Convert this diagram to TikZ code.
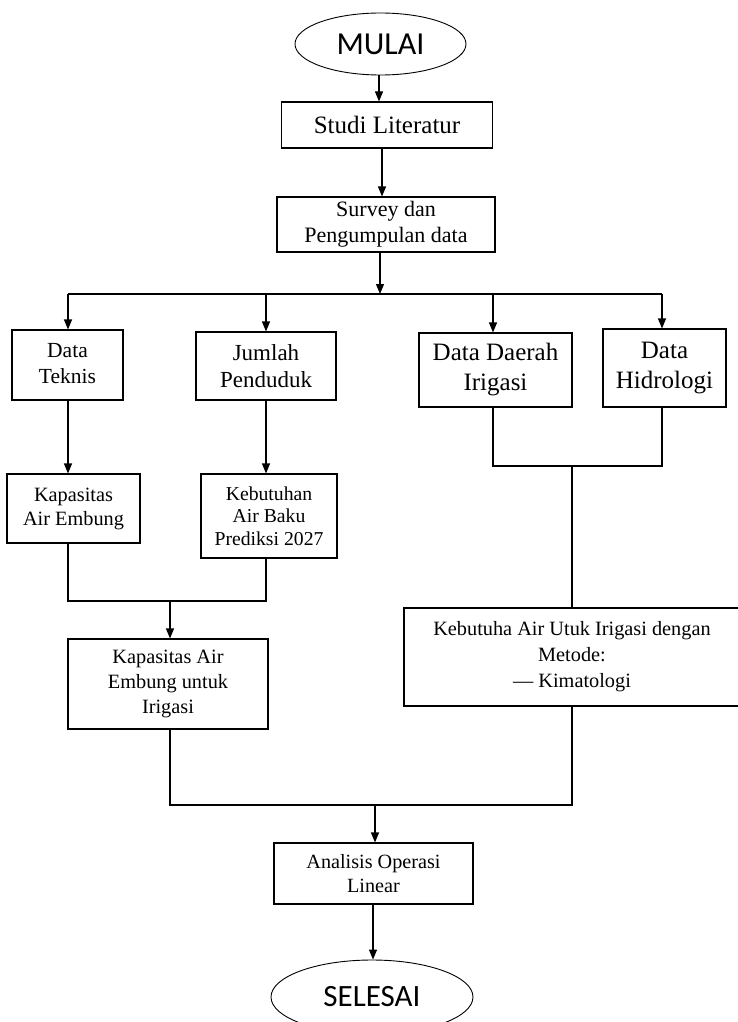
\documentclass[tikz,border=0pt]{standalone}
\usepackage{fontspec}
\setmainfont{Liberation Serif}
\newfontfamily\calib{Carlito}
\usetikzlibrary{shapes.geometric,arrows.meta}
\begin{document}
\begin{tikzpicture}[x=1pt,y=-1pt,
  line width=1.1pt,
  box/.style={draw, rectangle, inner sep=0pt, align=center},
  term/.style={draw, ellipse, inner sep=0pt, line width=0.9pt, font=\calib\fontsize{32}{36}\selectfont},
  arr/.style={-{Triangle[length=10pt,width=8pt]}}
]
\useasboundingbox (0,0) rectangle (737,1022);

% terminals
\node[term, minimum width=171pt, minimum height=62pt] (mulai) at (380.5,44) {MULAI};
\node[term, minimum width=202pt, minimum height=74pt, font=\calib\fontsize{31}{35}\selectfont] (selesai) at (372,997) {SELESAI};

% main boxes
\node[box, minimum width=211pt, minimum height=46pt, font=\fontsize{25}{30}\selectfont] (studi) at (387,125) {Studi Literatur};
\node[box, minimum width=218pt, minimum height=55pt, font=\fontsize{22}{26}\selectfont] (survey) at (386,224.5) {Survey dan\\Pengumpulan data};

\node[box, minimum width=111pt, minimum height=70pt, font=\fontsize{21.5}{26}\selectfont] (teknis) at (67.5,365) {\raisebox{-3pt}{\begin{tabular}{@{}c@{}}Data\\[0pt]Teknis\end{tabular}}};
\node[box, minimum width=140pt, minimum height=68pt, font=\fontsize{23}{27}\selectfont] (jumlah) at (266,366) {Jumlah\\Penduduk};
\node[box, minimum width=153pt, minimum height=74pt, font=\fontsize{25}{30}\selectfont] (daerah) at (495.5,370) {Data Daerah\\Irigasi};
\node[box, minimum width=123pt, minimum height=78pt, font=\fontsize{25}{30}\selectfont] (hidro) at (664.5,368) {Data\\Hidrologi};

\node[box, minimum width=133pt, minimum height=69pt, font=\fontsize{20.3}{24}\selectfont] (kapasitas) at (73.5,508.5) {Kapasitas\\Air Embung};
\node[box, minimum width=136pt, minimum height=84pt, font=\fontsize{19.7}{22.5}\selectfont] (kebutuhan) at (269,516) {Kebutuhan\\Air Baku\\Prediksi 2027};

\node[box, minimum width=200pt, minimum height=90pt, font=\fontsize{20.3}{25}\selectfont] (kapirig) at (168,684) {Kapasitas Air\\Embung untuk\\Irigasi};
\node[box, minimum width=336pt, minimum height=98pt, font=\fontsize{20.3}{26}\selectfont] (kebirig) at (572,657) {Kebutuha Air Utuk Irigasi dengan\\Metode:\\— Kimatologi};

\node[box, minimum width=199pt, minimum height=61pt, font=\fontsize{20.2}{24}\selectfont] (analisis) at (373.5,873.5) {Analisis Operasi\\Linear};

% junction coordinates
\coordinate (bus) at (380,294);
\coordinate (busL) at (68,294);
\coordinate (busR) at (662,294);
\coordinate (mL) at (170,601);
\coordinate (mR) at (572,466);
\coordinate (mB) at (375,805);

% top chain
\draw[arr] (379,0 |- mulai.south) -- (379,0 |- studi.north);
\draw[arr] (382,0 |- studi.south) -- (382,0 |- survey.north);
\draw[arr] (bus |- survey.south) -- (bus);

% distribution bus
\draw (busL) -- (busR);
\draw[arr] (busL) -- (busL |- teknis.north);
\draw[arr] (266,294) -- (266,0 |- jumlah.north);
\draw[arr] (493,294) -- (493,0 |- daerah.north);
\draw[arr] (busR) -- (busR |- hidro.north);

% left branch
\draw[arr] (68,0 |- teknis.south) -- (68,0 |- kapasitas.north);
\draw[arr] (266,0 |- jumlah.south) -- (266,0 |- kebutuhan.north);
\draw (68,0 |- kapasitas.south) -- (68,601) -- (266,601) -- (266,0 |- kebutuhan.south);
\draw[arr] (mL) -- (mL |- kapirig.north);

% right branch
\draw (493,0 |- daerah.south) -- (493,466) -- (662,466) -- (662,0 |- hidro.south);
\draw (mR) -- (mR |- kebirig.north);

% bottom merge
\draw (170,0 |- kapirig.south) -- (170,805) -- (572,805) -- (572,0 |- kebirig.south);
\draw[arr] (mB) -- (mB |- analisis.north);
\draw[arr] (373,0 |- analisis.south) -- (373,0 |- selesai.north);
\end{tikzpicture}
\end{document}
